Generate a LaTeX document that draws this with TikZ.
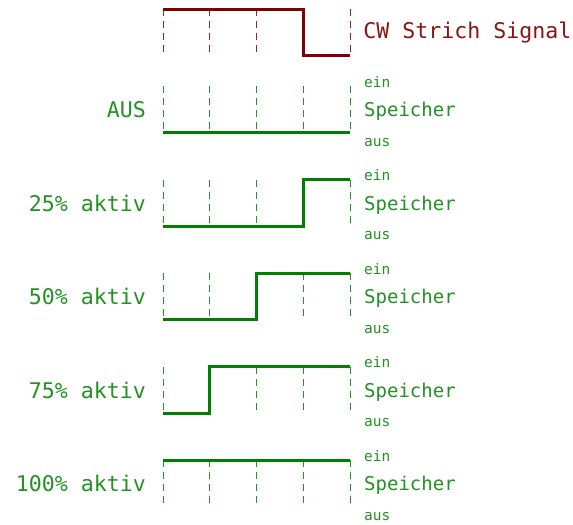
\documentclass[tikz,border=0pt]{standalone}
\usepackage{fontspec}
\setmonofont{DejaVu Sans Mono}
\definecolor{sigred}{RGB}{128,0,0}
\definecolor{siggreen}{RGB}{0,128,0}
\definecolor{txtgreen}{RGB}{35,145,35}
\definecolor{txtred}{RGB}{140,20,20}
\begin{document}
\begin{tikzpicture}[x=46.75pt, y=46.75pt,
  sig/.style={line width=3pt},
  tick/.style={line width=0.8pt, dash pattern=on 7pt off 5pt},
  big/.style={inner sep=0pt, font=\ttfamily\fontsize{21.6}{21.6}\selectfont},
  mid/.style={inner sep=0pt, font=\ttfamily\fontsize{19}{19}\selectfont},
  small/.style={inner sep=0pt, font=\ttfamily\fontsize{14.5}{14.5}\selectfont}]
\useasboundingbox (-3.487,-0.364) rectangle (8.770,10.845);
% CW signal on top
\foreach \x in {0,...,4}
  \draw [tick, sigred!85] (\x,10.65) -- (\x,9.65);
\draw [sig, sigred] (0,10.65) -- (3,10.65) -- (3,9.65) -- (4,9.65);
\node [big, txtred, anchor=west] at (4.28,10.15) {CW Strich Signal};
% memory rows: grid and labels
\foreach \y/\lab in {8/AUS, 6/25\% aktiv, 4/50\% aktiv, 2/75\% aktiv, 0/100\% aktiv} {
  \foreach \x in {0,...,4}
    \draw [tick, siggreen!85] (\x,\y+1) -- (\x,\y);
  \node [big, txtgreen, anchor=east] at (-0.36,\y+0.5) {\lab};
  \node [small, txtgreen, anchor=west] at (4.3,\y+1.09) {ein};
  \node [mid, txtgreen, anchor=west] at (4.3,\y+0.46) {Speicher};
  \node [small, txtgreen, anchor=west] at (4.3,\y-0.2) {aus};
}
% memory signals
\draw [sig, siggreen] (0,8) -- (4,8);
\draw [sig, siggreen] (0,6) -- (3,6) -- (3,7) -- (4,7);
\draw [sig, siggreen] (0,4) -- (2,4) -- (2,5) -- (4,5);
\draw [sig, siggreen] (0,2) -- (1,2) -- (1,3) -- (4,3);
\draw [sig, siggreen] (0,1) -- (4,1);
\end{tikzpicture}
\end{document}
